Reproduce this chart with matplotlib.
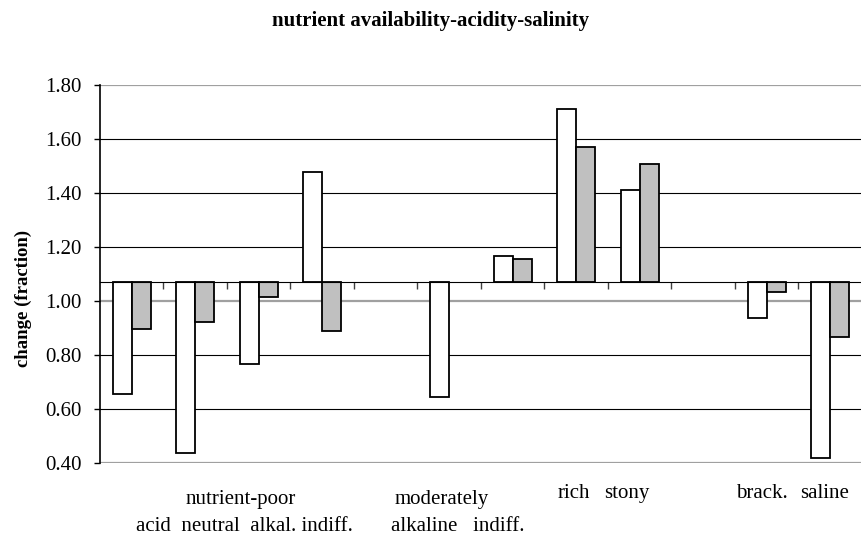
import numpy as np
import matplotlib.pyplot as plt

# values (baseline of the bars sits at 1.07)
baseline = 1.07
categories = ["acid", "neutral", "alkal.", "indiff.", "", "alkaline", "indiff.",
              "rich", "stony", "", "brack.", "saline"]
series_white = [0.654, 0.436, 0.765, 1.479, np.nan, 0.646, 1.167,
                1.710, 1.411, np.nan, 0.938, 0.417]
series_grey = [0.897, 0.923, 1.014, 0.889, np.nan, np.nan, 1.155,
               1.569, 1.509, np.nan, 1.035, 0.868]
yticks = [0.40, 0.60, 0.80, 1.00, 1.20, 1.40, 1.60, 1.80]

W, H = 862, 537
plt.rcParams["font.family"] = ["Liberation Serif", "DejaVu Serif"]

fig = plt.figure(figsize=(W / 100, H / 100), dpi=100)
ax = fig.add_axes([100 / W, 1 - 463 / H, 762 / W, 378 / H])

x = np.arange(len(categories))
w = np.array(series_white) - baseline
g = np.array(series_grey) - baseline

# horizontal grid, lighter lines at 0.40 / 1.00 / 1.80
for v in yticks:
    light = v in (0.40, 1.00, 1.80)
    ax.axhline(v, color="#a0a0a0" if light else "black",
               lw=1.6 if light else 0.8, zorder=1)

ax.bar(x - 0.15, w, width=0.3, bottom=baseline, color="white",
       edgecolor="black", lw=1.3, zorder=3)
ax.bar(x + 0.15, g, width=0.3, bottom=baseline, color="#c0c0c0",
       edgecolor="black", lw=1.3, zorder=3)

ax.set_xlim(-0.5, len(categories) - 0.5)
ax.set_ylim(0.40, 1.80)
ax.set_yticks(yticks)
ax.set_yticklabels([f"{v:.2f}" for v in yticks], fontsize=15)
ax.set_xticks(np.arange(0.5, len(categories) - 0.5, 1.0))
ax.set_xticklabels([])

ax.spines["top"].set_visible(False)
ax.spines["right"].set_visible(False)
ax.spines["bottom"].set_position(("data", baseline))
ax.spines["bottom"].set_zorder(4)
ax.spines["left"].set_linewidth(1.2)
ax.tick_params(axis="y", direction="out", length=4, width=1, pad=9)
ax.tick_params(axis="x", direction="out", length=5, width=1, color="#404040")

fig.text(431 / W, 1 - 26 / H, "nutrient availability-acidity-salinity",
         ha="center", va="baseline", fontsize=15, fontweight="bold")
fig.text(23 / W, 1 - 298 / H, "change (fraction)", rotation=90,
         ha="center", va="center", fontsize=13.5, fontweight="bold")

# two-row grouping labels under the plot (text, x centre, baseline y)
labels = [
    ("nutrient-poor", 241, 504),
    ("acid  neutral  alkal. indiff.", 244, 531),
    ("moderately", 442, 504),
    ("alkaline   indiff.", 458, 531),
    ("rich", 574, 498),
    ("stony", 627, 498),
    ("brack.", 762, 498),
    ("saline", 825, 498),
]
for txt, px, py in labels:
    fig.text(px / W, 1 - py / H, txt, ha="center", va="baseline", fontsize=15)

fig.savefig("out.png", dpi=100)
